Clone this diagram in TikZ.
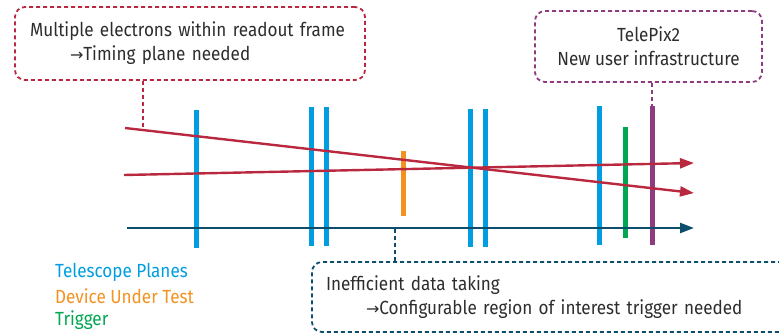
\documentclass[tikz,border=0pt]{standalone}
\usepackage{fontspec}
\setmainfont[FakeStretch=0.9]{Fira Sans}
\newfontfamily\arrowfont{DejaVu Sans}
\usetikzlibrary{arrows.meta}
\definecolor{telecol}{RGB}{0,158,224}
\definecolor{dutcol}{RGB}{243,146,32}
\definecolor{trigcol}{RGB}{0,166,81}
\definecolor{pixcol}{RGB}{142,60,128}
\definecolor{beamcol}{RGB}{185,40,62}
\definecolor{axiscol}{RGB}{12,78,108}
\definecolor{txtcol}{RGB}{45,45,45}
\newcommand{\toarrow}{{\arrowfont\fontsize{16}{16}\selectfont →}}

\tikzset{
  notebox/.style={draw=#1, line width=1.8pt, dash pattern=on 4pt off 3pt, rounded corners=10pt,
    text=txtcol, font=\fontsize{19}{24}\selectfont},
  notelink/.style={line width=1.8pt, dash pattern=on 4pt off 3pt},
  plane/.style={line width=5pt},
  beam/.style={line width=2.4pt, -{Triangle[length=14pt,width=10pt]}},
  legend/.style={anchor=west, inner sep=0pt, font=\fontsize{19}{20}\selectfont}
}

\begin{document}
\begin{tikzpicture}[x=1pt, y=-1pt] % pixel grid, y down
\useasboundingbox (0,0) rectangle (779,335);

% detector planes: x, top, bottom, colour
\foreach \px/\pt/\pb/\pc in {196/110/248/telecol, 311/107/246/telecol, 326/107/246/telecol,
    470/109/247/telecol, 485/109/247/telecol, 599/106/245/telecol,
    403/151/216/dutcol, 625/127/238/trigcol, 652/106/245/pixcol}
  \draw[plane, \pc] (\px,\pt) -- (\px,\pb);
\coordinate (pixtop) at (652,106);

% tracks and beam axis
\coordinate (trkAa) at (125,128);
\coordinate (trkAb) at (694,193);
\coordinate (trkBa) at (124,175);
\coordinate (trkBb) at (694,163);
\coordinate (axa) at (127,228);
\coordinate (axb) at (694,228);
\draw[beam, beamcol] (trkAa) -- (trkAb);
\draw[beam, beamcol] (trkBa) -- (trkBb);
\draw[beam, axiscol] (axa) -- (axb);

% remarks
\node[notebox=beamcol, text width=336pt, align=left, inner xsep=7pt, minimum height=73pt]
  (frame) at (190,43.5) {\hspace*{8pt}Multiple electrons within readout frame\\
  \hspace*{48pt}\toarrow Timing plane needed};
\node[notebox=pixcol, align=center, minimum width=227pt, minimum height=71pt]
  (telepix) at (648.5,46.5) {TelePix2\\New user infrastructure};
\node[notebox=axiscol, text width=452pt, align=left, inner xsep=14pt, minimum height=70pt]
  (roi) at (552,297) {Inefficient data taking\\
  \hspace*{40pt}\toarrow Configurable region of interest trigger needed};

\coordinate (trkAhit) at (143,130);
\coordinate (axhit) at (395,229);
\draw[notelink, beamcol] (frame.south -| trkAhit) -- (trkAhit);
\draw[notelink, pixcol] (telepix.south -| pixtop) -- (pixtop);
\draw[notelink, axiscol] (roi.north -| axhit) -- (axhit);

% legend
\node[legend, telecol] (lgtele) at (55,272) {Telescope Planes};
\node[legend, dutcol] (lgdut) at (55,296) {Device Under Test};
\node[legend, trigcol] (lgtrig) at (55,320) {Trigger};
\end{tikzpicture}
\end{document}
